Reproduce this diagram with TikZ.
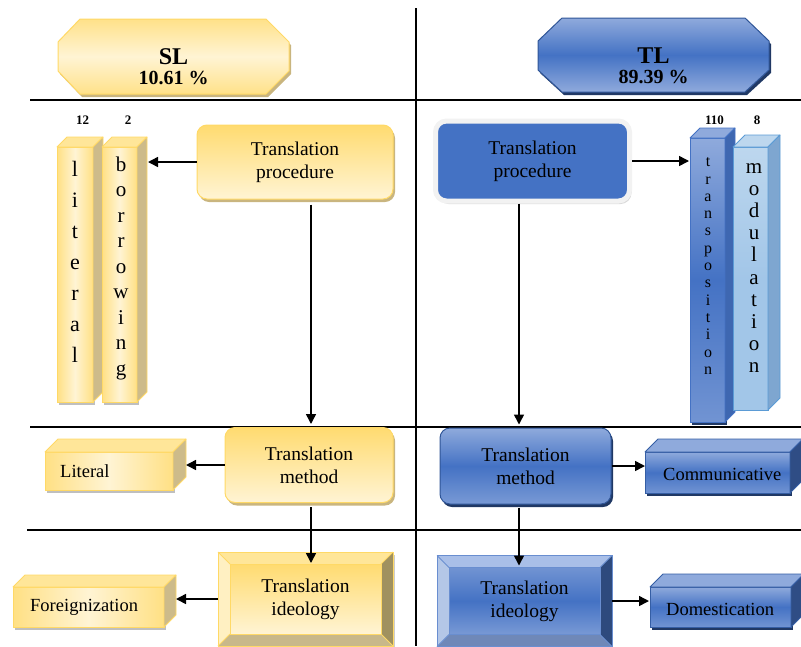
\documentclass[tikz,border=0pt]{standalone}
\usepackage{fontspec}
\setmainfont{Liberation Serif}
\usetikzlibrary{arrows.meta,shadows,calc}
\definecolor{ylight}{HTML}{FFF4D4}
\definecolor{ymid}{HTML}{FFDB70}
\definecolor{yedge}{HTML}{FFD966}
\definecolor{ytop}{HTML}{FFE699}
\definecolor{yleft}{HTML}{FFF0C2}
\definecolor{yside}{HTML}{CDBB8A}
\definecolor{yright}{HTML}{A0915F}
\definecolor{ybot}{HTML}{C8B88A}
\definecolor{yshadow}{HTML}{C9B57F}
\definecolor{bmain}{HTML}{4472C4}
\definecolor{blight}{HTML}{8FAADC}
\definecolor{bedge}{HTML}{2F5597}
\definecolor{bdark}{HTML}{203864}
\definecolor{bside}{HTML}{2F4D85}
\definecolor{btop}{HTML}{A9BFE8}
\definecolor{bleft}{HTML}{B4C7E7}
\definecolor{bright}{HTML}{2E4A7D}
\definecolor{bbot}{HTML}{6F88B8}
\definecolor{mfront}{HTML}{A2C6E8}
\definecolor{mtop}{HTML}{BDD7EE}
\definecolor{mside}{HTML}{7EA6D0}
\definecolor{medge}{HTML}{5B9BD5}
\definecolor{greyedge}{HTML}{F2F2F2}

\newcommand\cubefaces[5]{%
  \filldraw[fill=#3,draw=#5,line width=0.8pt,line join=round] (#1.north west) -- ++(#2,-#2) -- ($(#1.north east)+(#2,-#2)$) -- (#1.north east) -- cycle;
  \filldraw[fill=#4,draw=#5,line width=0.8pt,line join=round] (#1.north east) -- ++(#2,-#2) -- ($(#1.south east)+(#2,-#2)$) -- (#1.south east) -- cycle;
}
\newcommand\bevelfaces[8]{%
  \coordinate (#1-a) at ($(#1.north west)+(#2,#2)$);
  \coordinate (#1-b) at ($(#1.north east)+(-#2,#2)$);
  \coordinate (#1-c) at ($(#1.south east)+(-#2,-#2)$);
  \coordinate (#1-d) at ($(#1.south west)+(#2,-#2)$);
  \fill[#3] (#1.north west) -- (#1.north east) -- (#1-b) -- (#1-a) -- cycle;
  \fill[#5] (#1.north east) -- (#1.south east) -- (#1-c) -- (#1-b) -- cycle;
  \fill[#6] (#1.south east) -- (#1.south west) -- (#1-d) -- (#1-c) -- cycle;
  \fill[#4] (#1.south west) -- (#1.north west) -- (#1-a) -- (#1-d) -- cycle;
  \path[#7] (#1-a) rectangle (#1-c);
  \draw[#8,line width=0.9pt] (#1.north west) rectangle (#1.south east);
  \draw[#8,line width=0.9pt] (#1-a) rectangle (#1-c);
  \draw[#8,line width=0.9pt] (#1.north west) -- (#1-a) (#1.north east) -- (#1-b) (#1.south east) -- (#1-c) (#1.south west) -- (#1-d);
}

\tikzset{
  txt/.style={font=\fontsize{19.5}{23}\selectfont, align=center, inner sep=0pt},
  stxt/.style={font=\fontsize{18.5}{22}\selectfont, inner sep=0pt},
  numf/.style={font=\bfseries\fontsize{13}{13}\selectfont, inner sep=0pt},
  ybox/.style={draw=yedge, line width=1pt, rounded corners=10pt, top color=ymid, bottom color=ylight,
     drop shadow={shadow xshift=2pt, shadow yshift=-3pt, fill=yshadow, opacity=1}, inner sep=0pt},
  bbox/.style={draw=bedge, line width=1pt, rounded corners=10pt, top color=blight, bottom color=blight!70!bmain, middle color=bmain,
     drop shadow={shadow xshift=2pt, shadow yshift=-3pt, fill=bdark, opacity=1}, inner sep=0pt},
  yfront/.style={draw=yedge, line width=0.8pt, left color=ymid!80!ylight, right color=ymid!80!ylight, middle color=ylight,
     drop shadow={shadow xshift=2pt, shadow yshift=-3pt, fill=black!25, opacity=1}, inner sep=0pt, outer sep=0pt},
  bfront/.style={draw=bedge!70!bmain, line width=0.8pt, top color=blight, bottom color=blight!60!bmain, middle color=bmain,
     drop shadow={shadow xshift=2pt, shadow yshift=-3pt, fill=bdark, opacity=1}, inner sep=0pt, outer sep=0pt},
  mfrontst/.style={draw=medge, line width=0.8pt, top color=mtop, bottom color=mfront, middle color=mfront,
     inner sep=0pt, outer sep=0pt},
  bevnode/.style={inner sep=0pt, outer sep=0pt, draw=none},
  arr/.style={line width=1.5pt, -{Triangle[length=10pt,width=10pt]}},
  sep/.style={line width=1.4pt},
  letcol/.style={align=center, inner sep=0pt},
}

\begin{document}
\begin{tikzpicture}[x=1pt,y=-1pt]
\useasboundingbox (0,0) rectangle (801,646);

% separators
\draw[sep] (416,8) -- (416,646);
\draw[sep] (30,100) -- (801,100);
\draw[sep] (30,427) -- (801,427);
\draw[sep] (27,530) -- (801,530);

% headers
\path[draw=yedge, line width=1pt, top color=ymid!75!ylight, bottom color=ymid!75!ylight, middle color=ylight,
  drop shadow={shadow xshift=2pt, shadow yshift=-3pt, fill=yshadow, opacity=1}]
  (80,19) -- (266,19) -- (289,42) -- (289,71) -- (266,94) -- (80,94) -- (58,71) -- (58,42) -- cycle;
\node[font=\bfseries\fontsize{20}{20}\selectfont, align=center, inner sep=0pt] (slh) at (173.5,67) {{\fontsize{24}{20}\selectfont SL}\\10.61 \%};
\path[draw=bedge, line width=1pt, top color=blight, bottom color=blight, middle color=bmain,
  drop shadow={shadow xshift=2pt, shadow yshift=-3pt, fill=bdark, opacity=1}]
  (562,18) -- (745,18) -- (769,41) -- (769,70) -- (745,92) -- (562,92) -- (538,70) -- (538,41) -- cycle;
\node[font=\bfseries\fontsize{20}{20}\selectfont, align=center, inner sep=0pt] (tlh) at (653.5,66) {{\fontsize{24}{20}\selectfont TL}\\89.39 \%};

% ---------- SL side ----------
\node[ybox, minimum width=196pt, minimum height=74pt, txt] (sproc) at (295,162) {Translation\\procedure};

% bars
\node[yfront, minimum width=36pt, minimum height=255pt] (lit) at (75,274.5) {};
\cubefaces{lit}{10}{ytop}{yside}{yedge}
\node[yfront, minimum width=35pt, minimum height=255pt] (bor) at (119.5,274.5) {};
\cubefaces{bor}{10}{ytop}{yside}{yedge}
\node[letcol, font=\fontsize{22}{31}\selectfont] (litt) at (75,262) {l\\i\\t\\e\\r\\a\\l};
\node[letcol, font=\fontsize{21}{25.5}\selectfont] (bort) at (121,268) {b\\o\\r\\r\\o\\w\\i\\n\\g};
\node[numf] (n12) at (82.5,120) {12};
\node[numf] (n2) at (128,120) {2};

\node[ybox, minimum width=168pt, minimum height=75pt, txt] (smeth) at (309,465) {Translation\\method};
\node[yfront, minimum width=128pt, minimum height=38pt] (slit) at (109,471) {};
\cubefaces{slit}{13}{ytop}{yside}{yedge}
\node[stxt, anchor=west] (slitt) at ([xshift=15pt]slit.west) {Literal};

\node[bevnode, minimum width=175pt, minimum height=94pt] (sideo) at (305.5,599) {};
\fill[black!20] ([xshift=2pt,yshift=-3pt]sideo.north west) rectangle ([xshift=2pt,yshift=-3pt]sideo.south east);
\bevelfaces{sideo}{12}{ytop}{yleft}{yright}{ybot}{top color=ymid, bottom color=ylight}{yedge}
\node[txt] (sideot) at (sideo.center) {Translation\\ideology};
\node[yfront, minimum width=151pt, minimum height=40pt] (sfor) at (88.5,607) {};
\cubefaces{sfor}{12}{ytop}{yside}{yedge}
\node[stxt, anchor=west] (sfort) at ([xshift=17pt]sfor.west) {Foreignization};

% ---------- TL side ----------
\node[draw=greyedge, line width=5pt, fill=bmain, rounded corners=11pt, minimum width=194pt, minimum height=80pt,
  drop shadow={shadow xshift=2pt, shadow yshift=-3pt, fill=black!15, opacity=1}, txt] (tproc) at (532.5,161) {Translation\\procedure};

\node[bfront, draw=bmain, minimum width=35pt, minimum height=284pt] (trans) at (707.5,280) {};
\cubefaces{trans}{10}{blight}{bmain!70!bside}{bmain}
\node[mfrontst, minimum width=35pt, minimum height=263pt] (modu) at (750.5,278.5) {};
\cubefaces{modu}{12}{mtop}{mside}{medge}
\node[letcol, font=\fontsize{16}{17.3}\selectfont] (transt) at (708,266) {t\\r\\a\\n\\s\\p\\o\\s\\i\\t\\i\\o\\n};
\node[letcol, font=\fontsize{21}{22.2}\selectfont] (modut) at (754,268) {m\\o\\d\\u\\l\\a\\t\\i\\o\\n};
\node[numf] (n110) at (714.5,120) {110};
\node[numf] (n8) at (757,120) {8};

\node[bbox, minimum width=171pt, minimum height=76pt, txt] (tmeth) at (525.5,466) {Translation\\method};
\node[bfront, minimum width=145pt, minimum height=41pt] (tcom) at (717.5,472.5) {};
\cubefaces{tcom}{13}{blight}{bside}{bedge!70!bmain}
\node[stxt, anchor=west] (tcomt) at ([xshift=18pt,yshift=-2pt]tcom.west) {Communicative};

\node[bevnode, minimum width=175pt, minimum height=91pt] (tideo) at (524.5,601) {};
\bevelfaces{tideo}{12}{btop}{bleft}{bright}{bbot}{top color=blight!60!bmain, bottom color=blight!70!bmain, middle color=bmain}{bmain!80!white}
\node[txt] (tideot) at (tideo.center) {Translation\\ideology};
\node[bfront, minimum width=141pt, minimum height=40pt] (tdom) at (720.5,607) {};
\cubefaces{tdom}{13}{blight}{bside}{bedge!70!bmain}
\node[stxt, anchor=west] (tdomt) at ([xshift=16pt,yshift=-2pt]tdom.west) {Domestication};

% ---------- connectors ----------
\coordinate (sx) at (311,0);
\coordinate (tx) at (519,0);
\draw[arr] (sproc.west) -- ([xshift=11pt]bor.east |- sproc.west);
\draw[arr] ([yshift=-5pt]sproc.south -| sx) -- ([yshift=3pt]smeth.north -| sx);
\draw[arr] (smeth.west) -- ([xshift=13pt]slit.east |- smeth.west);
\draw[arr] ([yshift=-4pt]smeth.south -| sx) -- ([yshift=-11pt]sideo.north -| sx);
\draw[arr] (sideo.west) -- ([xshift=12pt]sfor.east |- sideo.west);

\draw[arr] (tproc.east) -- ([xshift=-1pt]tproc.east -| trans.west);
\draw[arr] (tproc.south -| tx) -- ([yshift=3pt]tmeth.north -| tx);
\draw[arr] (tmeth.east) -- (tmeth.east -| tcom.west);
\draw[arr] ([yshift=-3pt]tmeth.south -| tx) -- ([yshift=-10pt]tideo.north -| tx);
\draw[arr] (tideo.east) -- ([xshift=-1pt]tideo.east -| tdom.west);
\end{tikzpicture}
\end{document}
